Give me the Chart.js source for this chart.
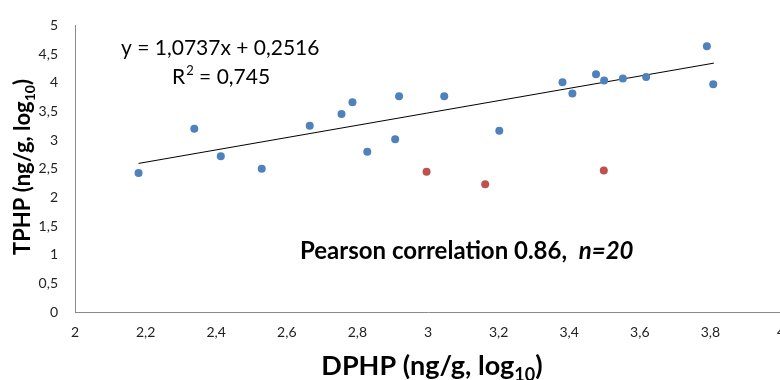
<!DOCTYPE html>
<html>
<head>
<meta charset="utf-8">
<script src="https://cdn.jsdelivr.net/npm/chart.js@4.4.0/dist/chart.umd.min.js"></script>
<style>
  html, body { margin: 0; padding: 0; background: #fff; overflow: hidden; }
  #wrap { width: 800px; height: 380px; }
</style>
</head>
<body>
<div id="wrap"><canvas id="c" width="800" height="380"></canvas></div>
<script>
// ---- data ----
const blueX = [2.18, 2.338, 2.413, 2.529, 2.665, 2.755, 2.786, 2.828, 2.907, 2.918,
               3.046, 3.202, 3.381, 3.409, 3.476, 3.499, 3.552, 3.618, 3.790, 3.808];
const blueY = [2.425, 3.197, 2.717, 2.499, 3.249, 3.454, 3.660, 2.796, 3.014, 3.763,
               3.763, 3.163, 4.009, 3.814, 4.146, 4.037, 4.072, 4.099, 4.638, 3.974];
const redX  = [2.996, 3.162, 3.498];
const redY  = [2.448, 2.230, 2.470];
const trendX = [2.18, 3.81];
const trendY = [2.592, 4.342];

const eqText = 'y = 1,0737x + 0,2516';
const r2Text = ' = 0,745';
const pearsonText = 'Pearson correlation 0.86,  ';
const nText = 'n=20';

const FONT = 'Lato, "Open Sans", sans-serif';
const toPts = (xs, ys) => xs.map((x, i) => ({ x: x, y: ys[i] }));
const comma = v => String(Number(v.toFixed(1))).replace('.', ',');

// title with a subscript part, drawn from a start x on a baseline
function drawSub(ctx, parts, size, x, y) {
  parts.forEach(p => {
    const s = p.sub ? Math.round(size * 0.65) : size;
    ctx.font = `bold ${s}px ${FONT}`;
    ctx.fillText(p.t, x, y + (p.sub ? size * 0.22 : 0));
    x += ctx.measureText(p.t).width;
  });
}
function widthSub(ctx, parts, size) {
  let w = 0;
  parts.forEach(p => {
    ctx.font = `bold ${p.sub ? Math.round(size * 0.65) : size}px ${FONT}`;
    w += ctx.measureText(p.t).width;
  });
  return w;
}

const textPlugin = {
  id: 'texts',
  afterDraw(chart) {
    const ctx = chart.ctx;
    ctx.save();
    ctx.fillStyle = '#000';
    ctx.textBaseline = 'alphabetic';
    ctx.textAlign = 'left';

    // equation + R²
    ctx.font = `21px ${FONT}`;
    ctx.fillText(eqText, 121, 55);
    ctx.fillText('R', 172, 84);
    const rw = ctx.measureText('R').width;
    ctx.font = `13px ${FONT}`;
    ctx.fillText('2', 172 + rw + 1, 75);
    const tw = ctx.measureText('2').width;
    ctx.font = `21px ${FONT}`;
    ctx.fillText(r2Text, 172 + rw + tw + 1, 84);

    // pearson note
    ctx.font = `bold 24px ${FONT}`;
    ctx.fillText(pearsonText, 300, 259);
    const pw = ctx.measureText(pearsonText).width;
    ctx.font = `italic bold 24px ${FONT}`;
    ctx.fillText(nText, 300 + pw, 259);

    // x title
    const xParts = [{ t: 'DPHP (ng/g, log' }, { t: '10', sub: true }, { t: ')' }];
    const xs = 27;
    const xw = widthSub(ctx, xParts, xs);
    drawSub(ctx, xParts, xs, 432 - xw / 2, 375);

    // y title (rotated)
    const yParts = [{ t: 'TPHP (ng/g, log' }, { t: '10', sub: true }, { t: ')' }];
    const ys = 22;
    const yw = widthSub(ctx, yParts, ys);
    ctx.translate(30, 167);
    ctx.rotate(-Math.PI / 2);
    drawSub(ctx, yParts, ys, -yw / 2, 0);
    ctx.restore();
  }
};

new Chart(document.getElementById('c'), {
  type: 'scatter',
  data: {
    datasets: [
      {
        label: 'trend',
        data: toPts(trendX, trendY),
        showLine: true,
        borderColor: '#000',
        borderWidth: 1,
        pointRadius: 0,
        order: 3
      },
      {
        label: 'DPHP vs TPHP',
        data: toPts(blueX, blueY),
        backgroundColor: '#4F81BD',
        borderWidth: 0,
        pointRadius: 4,
        order: 1
      },
      {
        label: 'excluded',
        data: toPts(redX, redY),
        backgroundColor: '#C0504D',
        borderWidth: 0,
        pointRadius: 4,
        order: 2
      }
    ]
  },
  options: {
    responsive: false,
    animation: false,
    layout: { padding: { top: 20, right: 19, left: 0, bottom: 0 } },
    plugins: { legend: { display: false }, tooltip: { enabled: false } },
    scales: {
      x: {
        type: 'linear',
        min: 2, max: 4,
        grid: { display: false, drawTicks: false },
        border: { display: true, color: '#8a8a8a', width: 1 },
        ticks: {
          stepSize: 0.2,
          padding: 12,
          color: '#222',
          font: { family: FONT, size: 14 },
          callback: v => comma(v)
        },
        afterFit: s => { s.height = 68; }
      },
      y: {
        type: 'linear',
        min: 0, max: 5,
        grid: { display: false, drawTicks: false },
        border: { display: true, color: '#8a8a8a', width: 1 },
        ticks: {
          stepSize: 0.5,
          padding: 17,
          color: '#222',
          font: { family: FONT, size: 14 },
          callback: v => comma(v)
        },
        afterFit: s => { s.width = 75; }
      }
    }
  },
  plugins: [textPlugin]
});
</script>
</body>
</html>
